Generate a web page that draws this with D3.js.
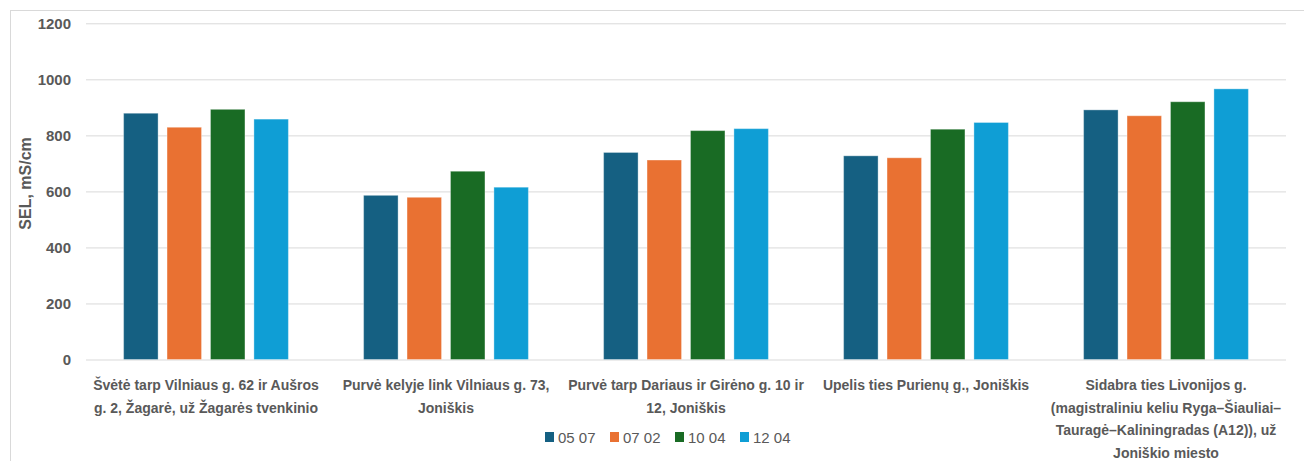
<!DOCTYPE html>
<html>
<head>
<meta charset="utf-8">
<script src="https://cdn.jsdelivr.net/npm/d3@7"></script>
<style>
  body { margin: 0; background: #fff; }
  svg { display: block; }
  .tick text { fill: #595959; }
</style>
</head>
<body>
<svg width="1304" height="461"></svg>
<script>
// sampling sites, each label already split into lines as in the picture
const categories = [
  ['Švėtė tarp Vilniaus g. 62 ir Aušros', 'g. 2, Žagarė, už Žagarės tvenkinio'],
  ['Purvė kelyje link Vilniaus g. 73,', 'Joniškis'],
  ['Purvė tarp Dariaus ir Girėno g. 10 ir', '12, Joniškis'],
  ['Upelis ties Purienų g., Joniškis'],
  ['Sidabra ties Livonijos g.', '(magistraliniu keliu Ryga–Šiauliai–', 'Tauragė–Kaliningradas (A12)), už', 'Joniškio miesto']
];
const series = ['05 07', '07 02', '10 04', '12 04'];
const colors = ['#156082', '#E97132', '#196B24', '#0F9ED5'];

// SEL values, mS/cm, one array per date
const v0507 = [879, 586, 739, 727, 891];
const v0702 = [829, 579, 712, 720, 870];
const v1004 = [893, 672, 817, 822, 920];
const v1204 = [858, 615, 824, 846, 966];
const values = [v0507, v0702, v1004, v1204];

const yTicks = [0, 200, 400, 600, 800, 1000, 1200];

const svg = d3.select('svg');
const plotL = 86, plotR = 1286, plotT = 23.3, plotB = 359.5;
const labelFont = '"Liberation Sans Narrow", "Arial Narrow", sans-serif';

// outer chart frame (right and bottom edges fall outside the picture)
svg.append('rect')
    .attr('x', 10.5).attr('y', 10.5)
    .attr('width', 1320).attr('height', 480)
    .attr('fill', 'none')
    .attr('stroke', '#d9d9d9');

const x0 = d3.scaleBand()
    .domain(d3.range(categories.length))
    .range([plotL, plotR]);

const x1 = d3.scaleBand()
    .domain(series)
    .range([37.6, x0.bandwidth() - 37.6])
    .paddingInner(0.206);

const y = d3.scaleLinear()
    .domain([0, 1200])
    .range([plotB, plotT]);

// gridlines + y labels
const yAxis = svg.append('g')
    .attr('transform', `translate(${plotL}, 0)`)
    .call(d3.axisLeft(y).tickValues(yTicks).tickSize(-(plotR - plotL)).tickPadding(15).tickFormat(d3.format('d')));
yAxis.select('.domain').remove();
yAxis.selectAll('.tick line').attr('stroke', '#d9d9d9');
yAxis.selectAll('.tick text')
    .attr('font-family', 'Liberation Sans, Arial, sans-serif')
    .attr('font-size', 15)
    .attr('font-weight', 'bold');

svg.append('text')
    .attr('transform', `translate(31, ${(plotT + plotB) / 2 - 8}) rotate(-90)`)
    .attr('text-anchor', 'middle')
    .attr('font-family', 'Liberation Sans, Arial, sans-serif')
    .attr('font-size', 16)
    .attr('font-weight', 'bold')
    .attr('fill', '#595959')
    .text('SEL, mS/cm');

// bars
const group = svg.selectAll('.site').data(categories)
    .enter().append('g')
    .attr('class', 'site')
    .attr('transform', (d, i) => `translate(${x0(i)}, 0)`);

group.selectAll('rect')
    .data((d, i) => series.map((s, k) => ({ s: s, k: k, v: values[k][i] })))
    .enter().append('rect')
    .attr('x', d => x1(d.s))
    .attr('y', d => y(d.v))
    .attr('width', x1.bandwidth())
    .attr('height', d => plotB - y(d.v))
    .attr('fill', d => colors[d.k])
    .attr('stroke', '#ffffff')
    .attr('stroke-opacity', 0.35)
    .attr('stroke-width', 1);

// category labels
const labels = svg.selectAll('.cat').data(categories)
    .enter().append('text')
    .attr('class', 'cat')
    .attr('text-anchor', 'middle')
    .attr('font-family', labelFont)
    .attr('font-size', 14)
    .attr('font-weight', 'bold')
    .attr('fill', '#595959')
    .attr('transform', (d, i) => `translate(${x0(i) + x0.bandwidth() / 2}, 390)`);

labels.selectAll('tspan')
    .data(d => d)
    .enter().append('tspan')
    .attr('x', 0)
    .attr('dy', (d, i) => i === 0 ? 0 : 22.6)
    .text(d => d);

// legend
const legend = svg.append('g').attr('transform', 'translate(545, 432)');
const item = legend.selectAll('g').data(series)
    .enter().append('g')
    .attr('transform', (d, i) => `translate(${i * 65}, 0)`);
item.append('rect')
    .attr('width', 9).attr('height', 10)
    .attr('fill', (d, i) => colors[i]);
item.append('text')
    .attr('x', 13).attr('y', 10.5)
    .attr('font-family', labelFont)
    .attr('font-size', 15)
    .attr('fill', '#595959')
    .text(d => d);
</script>
</body>
</html>
